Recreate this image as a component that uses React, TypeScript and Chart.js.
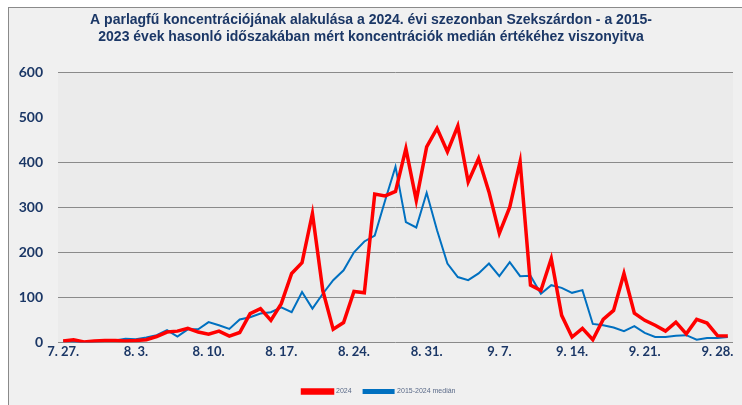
import React, { useEffect, useRef } from "react";
import { Chart, registerables } from "chart.js";

Chart.register(...registerables);

const dates: string[] = [
  "7. 27.", "7. 28.", "7. 29.", "7. 30.", "7. 31.", "8. 1.", "8. 2.",
  "8. 3.", "8. 4.", "8. 5.", "8. 6.", "8. 7.", "8. 8.", "8. 9.",
  "8. 10.", "8. 11.", "8. 12.", "8. 13.", "8. 14.", "8. 15.", "8. 16.",
  "8. 17.", "8. 18.", "8. 19.", "8. 20.", "8. 21.", "8. 22.", "8. 23.",
  "8. 24.", "8. 25.", "8. 26.", "8. 27.", "8. 28.", "8. 29.", "8. 30.",
  "8. 31.", "9. 1.", "9. 2.", "9. 3.", "9. 4.", "9. 5.", "9. 6.",
  "9. 7.", "9. 8.", "9. 9.", "9. 10.", "9. 11.", "9. 12.", "9. 13.",
  "9. 14.", "9. 15.", "9. 16.", "9. 17.", "9. 18.", "9. 19.", "9. 20.",
  "9. 21.", "9. 22.", "9. 23.", "9. 24.", "9. 25.", "9. 26.", "9. 27.",
  "9. 28.", "9. 29.",
];

const series2024: number[] = [
  3, 6, 1, 3, 4, 4, 3, 4, 6, 13, 23, 25, 31, 23, 18, 25, 14, 22, 64, 75,
  49, 86, 153, 177, 286, 115, 29, 44, 113, 110, 329, 325, 335, 430, 315, 434,
  475, 423, 480, 356, 408, 334, 242, 300, 401, 127, 115, 186, 60, 12, 31, 6,
  51, 71, 153, 65, 49, 38, 25, 45, 19, 51, 43, 15, 14,
];

const seriesMedian: number[] = [
  3, 2, 0, 2, 3, 4, 8, 7, 11, 16, 27, 13, 29, 29, 45, 38, 30, 51, 56, 64,
  67, 78, 67, 112, 75, 108, 138, 160, 200, 224, 237, 315, 390, 267, 255, 332,
  249, 175, 145, 138, 153, 175, 147, 178, 147, 148, 108, 127, 121, 110, 116, 41,
  38, 33, 25, 36, 21, 12, 12, 15, 16, 6, 10, 10, 12,
];

const yTicks: number[] = [0, 100, 200, 300, 400, 500, 600];

const titleLines: string[] = [
  "A parlagfű koncentrációjának alakulása a 2024. évi szezonban Szekszárdon - a 2015-",
  "2023 évek hasonló időszakában mért koncentrációk medián értékéhez viszonyitva",
];

const legendLabels: string[] = ["2024", "2015-2024 medián"];

const navy = "#1b3766";

const plotBg = {
  id: "plotBg",
  afterLayout(chart: any) {
    if (chart.legend) {
      chart.legend.left += 8;
      chart.legend.right += 8;
    }
  },
  beforeDraw(chart: any) {
    const { ctx, chartArea } = chart;
    ctx.save();
    ctx.fillStyle = "#ebebeb";
    ctx.fillRect(chartArea.left, chartArea.top, chartArea.right - chartArea.left, chartArea.bottom - chartArea.top);
    ctx.restore();
  },
};

export default function App() {
  const ref = useRef<HTMLCanvasElement | null>(null);

  useEffect(() => {
    if (!ref.current) return;
    const chart = new Chart(ref.current, {
      type: "line",
      data: {
        labels: dates,
        datasets: [
          {
            label: legendLabels[0],
            data: series2024,
            borderColor: "#ff0000",
            backgroundColor: "#ff0000",
            borderWidth: 3.5,
            pointRadius: 0,
            tension: 0,
          },
          {
            label: legendLabels[1],
            data: seriesMedian,
            borderColor: "#0070c0",
            backgroundColor: "#0070c0",
            borderWidth: 2,
            pointRadius: 0,
            tension: 0,
          },
        ],
      },
      options: {
        animation: false,
        responsive: false,
        maintainAspectRatio: false,
        layout: { padding: { left: 0, right: 9, top: 0, bottom: 0 } },
        plugins: {
          tooltip: { enabled: false },
          title: {
            display: true,
            text: titleLines,
            color: navy,
            font: { family: "Liberation Sans", size: 14, weight: "bold", lineHeight: 1.25 },
            padding: { top: 3, bottom: 26 },
          },
          legend: {
            position: "bottom",
            labels: {
              boxWidth: 30,
              boxHeight: 3,
              color: "#5a6a88",
              font: { family: "Liberation Sans", size: 7 },
              padding: 12,
            },
          },
        },
        scales: {
          x: {
            offset: true,
            grid: { display: false, drawTicks: false },
            border: { display: false },
            afterFit: (scale: any) => {
              scale.height += 14;
            },
            ticks: {
              autoSkip: false,
              maxRotation: 0,
              minRotation: 0,
              padding: 2,
              color: navy,
              font: { family: "Lato", size: 13, weight: "bold" },
              callback: (_v: any, i: number) => (i % 7 === 0 ? dates[i] : ""),
            },
          },
          y: {
            min: 0,
            max: 600,
            afterBuildTicks: (scale: any) => {
              scale.ticks = yTicks.map((v) => ({ value: v }));
            },
            afterFit: (scale: any) => {
              scale.width = 49;
            },
            border: { display: false },
            grid: {
              drawTicks: false,
              color: (ctx: any) => (ctx.tick && ctx.tick.value === 500 ? "rgba(0,0,0,0)" : "#8a8a8a"),
              lineWidth: 1,
            },
            ticks: {
              padding: 15,
              color: navy,
              font: { family: "Lato", size: 14, weight: "bold" },
            },
          },
        },
      },
      plugins: [plotBg],
    });
    return () => chart.destroy();
  }, []);

  return (
    <div
      style={{
        position: "absolute",
        left: 8,
        top: 7,
        width: 734,
        height: 398,
        background: "#f0f0f0",
        borderLeft: "1px solid #8a8a8a",
        borderTop: "1px solid #8a8a8a",
      }}
    >
      <canvas ref={ref} width={733} height={397} style={{ display: "block" }} />
    </div>
  );
}
